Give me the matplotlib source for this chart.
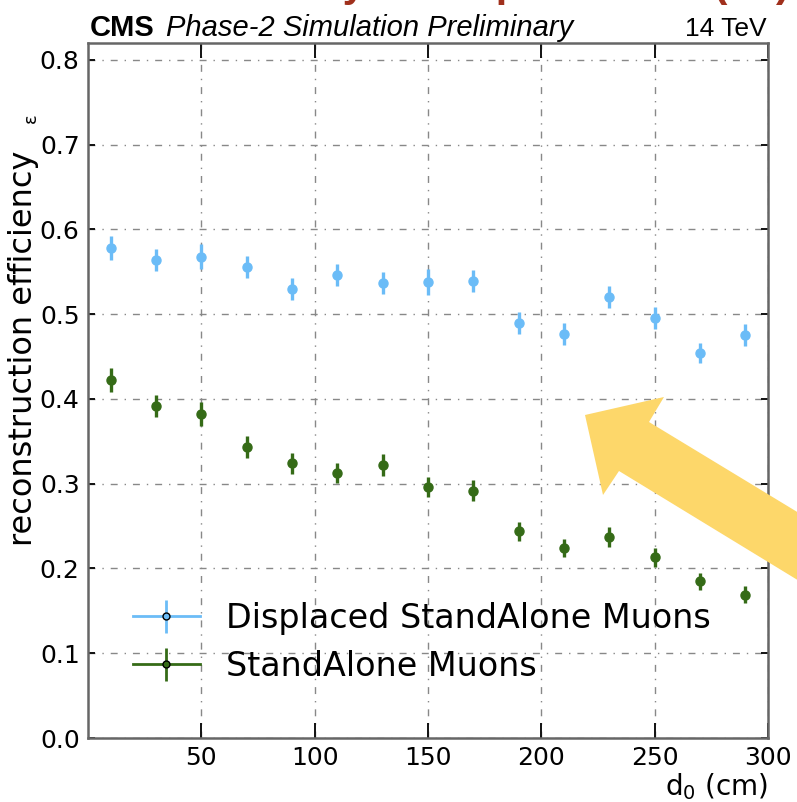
import numpy as np
import matplotlib
matplotlib.use("Agg")
import matplotlib.pyplot as plt
from matplotlib.patches import Polygon

plt.rcParams['font.family'] = ['DejaVu Sans']

# ---- data ----
d0 = [10, 30, 50, 70, 90, 110, 130, 150, 170, 190, 210, 230, 250, 270, 290]
eff_displaced = [0.578, 0.564, 0.568, 0.556, 0.530, 0.546, 0.537, 0.538, 0.539,
                 0.490, 0.477, 0.520, 0.495, 0.454, 0.475]
err_displaced = [0.014, 0.013, 0.015, 0.013, 0.013, 0.013, 0.013, 0.015, 0.013,
                 0.013, 0.013, 0.013, 0.013, 0.012, 0.013]
eff_sa = [0.422, 0.392, 0.382, 0.343, 0.324, 0.313, 0.322, 0.296, 0.292,
          0.244, 0.224, 0.237, 0.213, 0.185, 0.169]
err_sa = [0.014, 0.013, 0.014, 0.013, 0.012, 0.012, 0.013, 0.012, 0.012,
          0.011, 0.011, 0.012, 0.011, 0.010, 0.010]
xticks = [50, 100, 150, 200, 250, 300]
yticks = [0.0, 0.1, 0.2, 0.3, 0.4, 0.5, 0.6, 0.7, 0.8]
labels = ["Displaced StandAlone Muons", "StandAlone Muons"]

blue = "#6bbcf7"
green = "#356b17"

W, H = 797, 802
fig = plt.figure(figsize=(W / 100, H / 100), dpi=100)
ax = fig.add_axes([88 / W, 1 - 738 / H, (768 - 88) / W, (738 - 43) / H])

ax.errorbar(d0, eff_displaced, yerr=err_displaced, fmt='o', color=blue,
            ms=6.5, elinewidth=2.4, capsize=0, zorder=3)
ax.errorbar(d0, eff_sa, yerr=err_sa, fmt='o', color=green,
            ms=6.5, elinewidth=2.4, capsize=0, zorder=3)

ax.set_xlim(0, 300)
ax.set_ylim(0, 0.82)
ax.set_xticks(xticks)
ax.set_yticks(yticks)
ax.set_yticklabels([f"{v:.1f}" for v in yticks])
ax.tick_params(axis='x', which='major', direction='in', top=True, bottom=True,
               length=11, width=1.4, labelsize=18, pad=6, color='#111111')
ax.tick_params(axis='y', which='major', direction='in', left=True, right=True,
               length=5, width=1.4, labelsize=18, pad=6, color='#111111')
for sp in ax.spines.values():
    sp.set_color('#666666')
    sp.set_linewidth(1.8)

ax.grid(True, color='#888888', linewidth=1.0, linestyle=(0, (5, 5, 1, 5)))
ax.set_axisbelow(True)

# legend proxies
h1 = ax.errorbar([np.nan], [np.nan], yerr=[np.nan], fmt='o-', color=blue,
                 mfc=blue, mec='black', ms=5, lw=2, elinewidth=2, capsize=0)
h2 = ax.errorbar([np.nan], [np.nan], yerr=[np.nan], fmt='o-', color=green,
                 mfc=green, mec='black', ms=5, lw=2, elinewidth=2, capsize=0)
leg = fig.legend([h1, h2], labels, loc='upper left',
                 bbox_to_anchor=(133 / W, 1 - 602 / H), frameon=False,
                 fontsize=24, handlelength=2.0, handletextpad=0.8,
                 labelspacing=0.45, borderpad=0, borderaxespad=0)

# axis labels
fig.text(24 / W, 1 - 348 / H, "reconstruction efficiency", rotation=90,
         ha='center', va='center', fontsize=23)
fig.text(31 / W, 1 - 118 / H, "ε", rotation=90, ha='center', va='center',
         fontsize=13)
fig.text(768 / W, 1 - 795 / H, "d$_0$ (cm)", ha='right', va='baseline',
         fontsize=20)

# header
fig.text(90 / W, 1 - 36 / H, "CMS", fontweight='bold', fontsize=21,
         family='Liberation Sans', ha='left', va='baseline')
fig.text(166 / W, 1 - 36 / H, "Phase-2 Simulation Preliminary", style='italic',
         fontsize=21, family='Liberation Sans', ha='left', va='baseline')
fig.text(767 / W, 1 - 36 / H, "14 TeV", fontsize=19, family='Liberation Sans',
         ha='right', va='baseline')

# cut-off slide title at the very top (only its lowest part visible)
fig.text(790 / W, 1 + 4 / H, "Efficiency vs displacement (d0)",
         color='#a0301c', fontweight='bold', fontsize=30,
         family='Liberation Sans', ha='right', va='baseline')

# yellow annotation arrow (pixel outline)
pts_px = [(585, 415), (664, 397), (649, 422), (850, 544), (850, 612),
          (619, 471), (603, 495)]
pts = [(x / W, 1 - y / H) for x, y in pts_px]
fig.patches.append(Polygon(pts, closed=True, transform=fig.transFigure,
                           facecolor='#fdd76a', edgecolor='none', zorder=10))

fig.savefig("out.png", dpi=100)
